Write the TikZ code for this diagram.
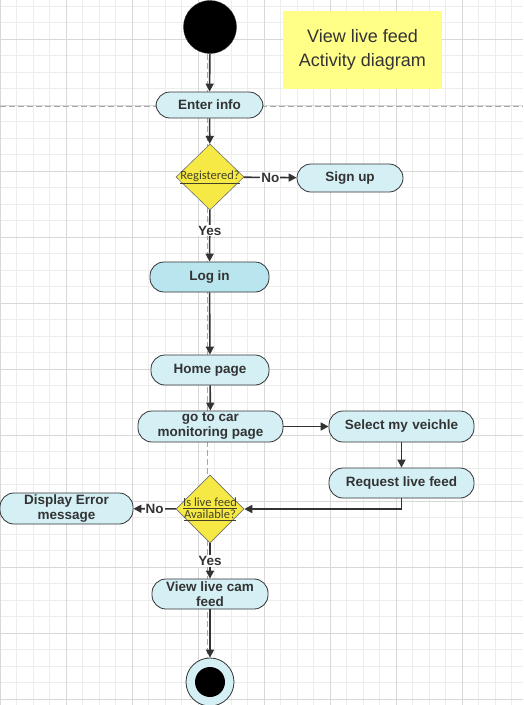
\documentclass[tikz,border=0pt]{standalone}
\usepackage{fontspec}
\setmainfont{Liberation Sans}
\newfontfamily\carl{Carlito}
\usetikzlibrary{shapes.geometric,arrows.meta}
\definecolor{actfill}{HTML}{D4F0F5}
\definecolor{loginfill}{HTML}{B9E6EE}
\definecolor{decfill}{HTML}{F6E945}
\definecolor{titlefill}{HTML}{FFFF88}
\definecolor{ink}{HTML}{333333}
\definecolor{gridminor}{HTML}{EDEDED}
\definecolor{gridmajor}{HTML}{D8D8D8}
\begin{document}
\begin{tikzpicture}[x=1pt,y=-1pt,
  act/.style={draw=ink, line width=0.8pt, fill=actfill, rounded corners=14pt,
    inner sep=0pt, align=center, text=ink,
    font=\fontsize{13.5}{15}\selectfont\bfseries},
  dec/.style={diamond, draw=ink!70, line width=0.6pt, fill=decfill, inner sep=0pt,
    minimum width=68pt, minimum height=66pt},
  dectext/.style={font=\carl\fontsize{12.5}{13}\selectfont, text=ink!80!olive, align=center},
  flow/.style={draw=ink, line width=1.6pt, -{Triangle[length=8pt,width=8pt]}},
  lbl/.style={fill=white, inner sep=1pt, text=ink, font=\fontsize{13.5}{15}\selectfont\bfseries}
]
\useasboundingbox (0,0) rectangle (523,705);
\fill[white] (0,0) rectangle (523,705);
% grid
\foreach \i in {0,...,32} \draw[gridminor, line width=0.6pt] ({\i*16.5},0) -- ({\i*16.5},705);
\foreach \i in {0,...,42} \draw[gridminor, line width=0.6pt] (0,{6+\i*16.5}) -- (523,{6+\i*16.5});
\foreach \i in {0,...,7} \draw[gridmajor, line width=0.8pt] ({\i*66},0) -- ({\i*66},705);
\foreach \i in {0,...,10} \draw[gridmajor, line width=0.8pt] (0,{39+\i*66}) -- (523,{39+\i*66});
% guide lines
\draw[gray!70, line width=0.7pt, dash pattern=on 6pt off 3pt] (0,106) -- (523,106);
\draw[gray!70, line width=0.7pt, dash pattern=on 6pt off 3pt] (207,0) -- (207,705);

% title
\node[fill=titlefill, minimum width=159pt, minimum height=78pt, align=center, text=ink,
  font=\fontsize{18}{24}\selectfont] (title) at (362.5,50) {View live feed\\Activity diagram};

% nodes
\node[circle, fill=black, draw=ink, minimum size=53pt, inner sep=0pt] (start) at (210,27) {};
\node[act, minimum width=107pt, minimum height=26pt] (enter) at (209.5,105) {Enter info};
\node[dec] (d1) at (210,177) {};
\node[dectext] at (d1.center) {\underline{Registered?}};
\node[act, minimum width=106pt, minimum height=28pt] (signup) at (350,178) {Sign up};
\node[act, fill=loginfill, minimum width=119pt, minimum height=30pt] (login) at (209.5,277) {Log in};
\node[act, minimum width=118pt, minimum height=30pt] (home) at (210,370) {Home page};
\node[act, minimum width=145pt, minimum height=31pt, font=\fontsize{13.5}{15}\selectfont\bfseries] (car) at (210.5,426.5) {go to car\\monitoring page};
\node[act, minimum width=145pt, minimum height=31pt] (select) at (401.5,426.5) {Select my\,\,veichle};
\node[act, minimum width=145pt, minimum height=30pt] (request) at (401.5,483) {Request live feed};
\node[dec, minimum height=68pt] (d2) at (210,509) {};
\node[dectext] at (d2.center) {\underline{Is live feed}\\[-1pt]\underline{Available?}};
\node[act, minimum width=133pt, minimum height=31pt, font=\fontsize{13.5}{15}\selectfont\bfseries] (error) at (66.5,508.5) {Display Error\\message};
\node[act, minimum width=116pt, minimum height=30pt, font=\fontsize{13.5}{15}\selectfont\bfseries] (view) at (210,594) {View live cam\\feed};
\node[circle, draw=ink, line width=0.8pt, fill=actfill, minimum size=48pt, inner sep=0pt] (end) at (210,682) {};
\fill[black] (end.center) circle (15pt);

% connectors
\draw[flow] (start) -- (enter);
\draw[flow] (enter) -- (d1);
\draw[flow] (d1) -- node[lbl] {No} (signup);
\draw[flow] (d1) -- node[lbl, pos=0.4] {Yes} (login);
\draw[flow] (login) -- (home);
\draw[flow] (home) -- (car);
\draw[flow] (car) -- (select);
\draw[flow] (select) -- (request);
\draw[flow] (request.south) |- (d2.east);
\draw[flow] (d2) -- node[lbl] {No} (error);
\draw[flow] (d2) -- node[lbl] {Yes} (view);
\draw[flow] (view) -- (end);
\end{tikzpicture}
\end{document}
